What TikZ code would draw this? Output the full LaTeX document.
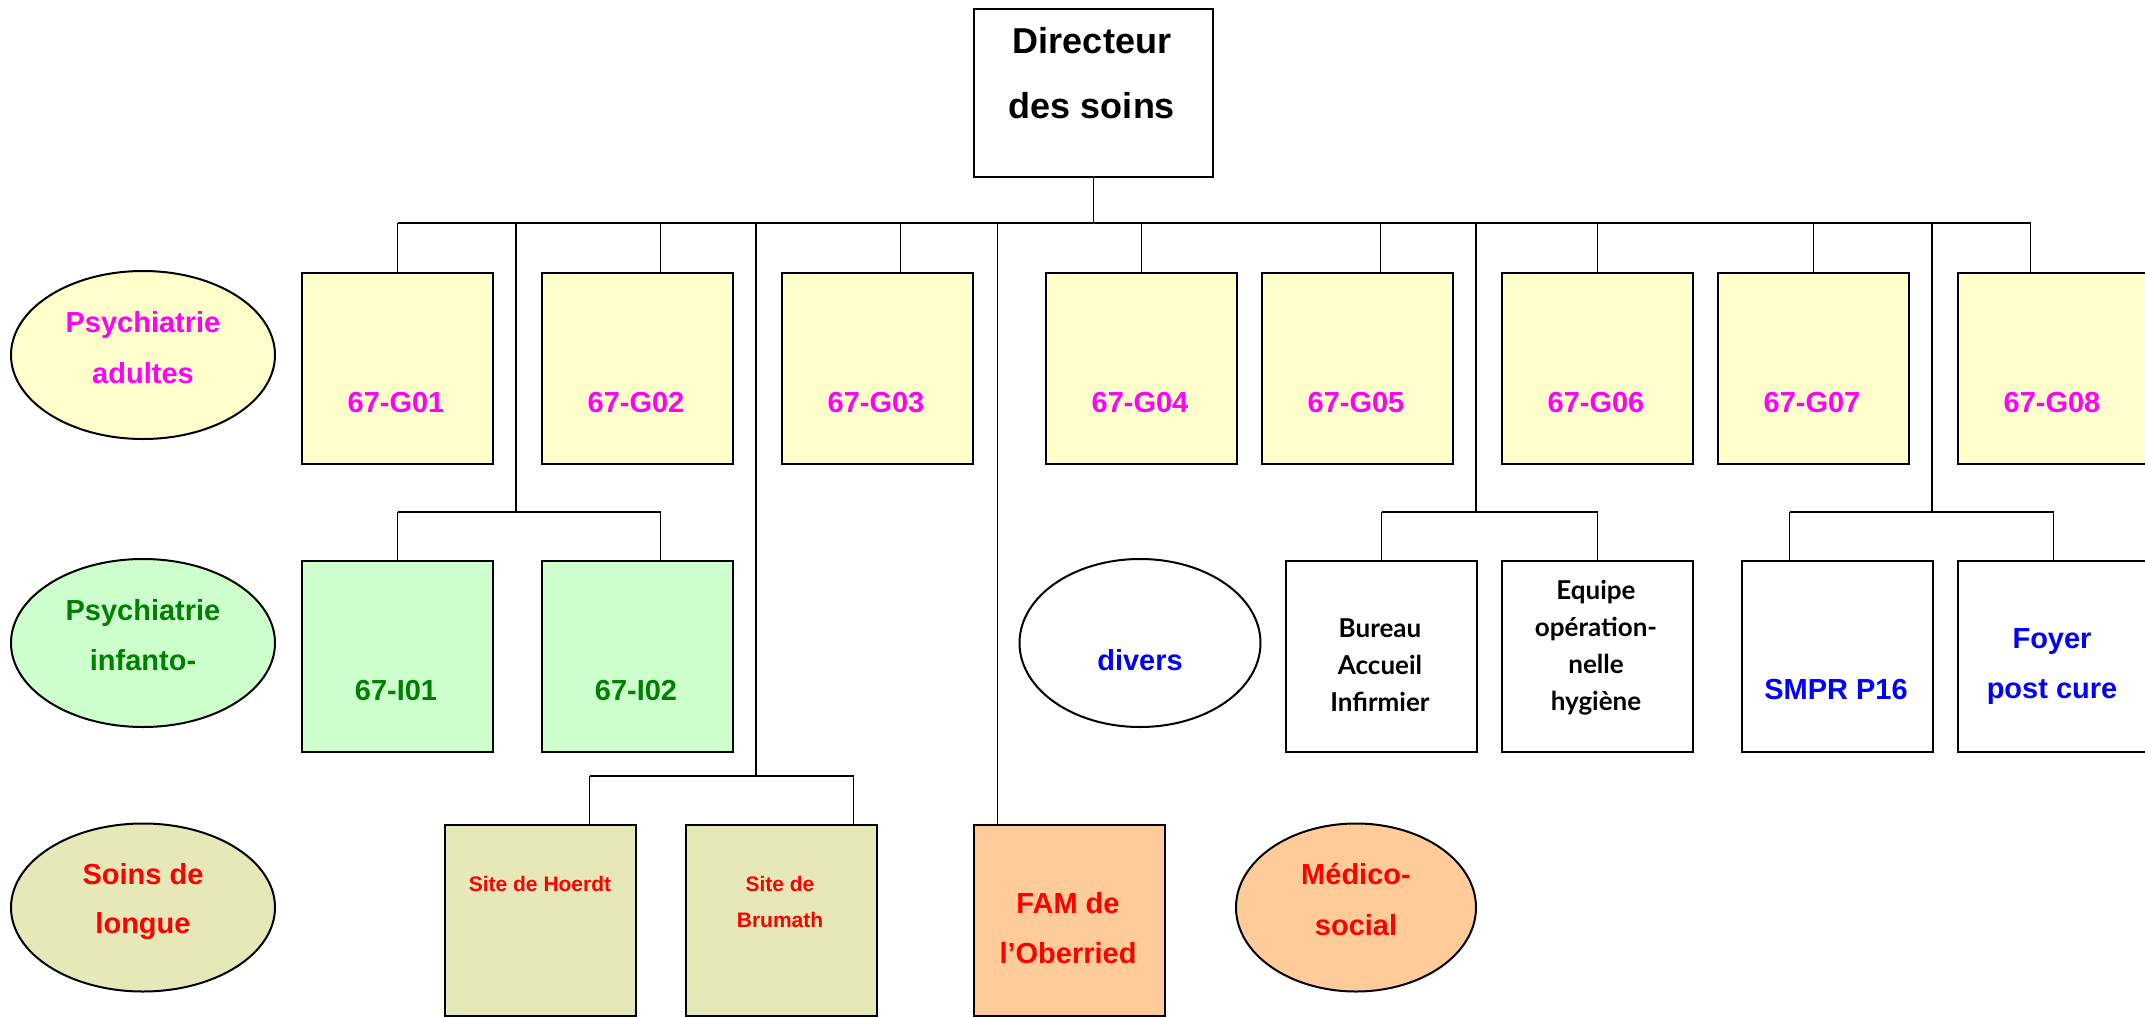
\documentclass[tikz,border=0pt]{standalone}
\usepackage{fontspec}
\setmainfont{Liberation Sans}
\newfontfamily\comicfont{Lato}
\usetikzlibrary{shapes.geometric}
\definecolor{fillyel}{HTML}{FFFFCC}
\definecolor{fillgrn}{HTML}{CCFFCC}
\definecolor{fillolv}{HTML}{E6E8B7}
\definecolor{fillpch}{HTML}{FFCC99}
\definecolor{txmag}{HTML}{FF00FF}
\definecolor{txgrn}{HTML}{008000}
\definecolor{txred}{HTML}{FF0000}
\definecolor{txblu}{HTML}{0000FF}
\begin{document}
\begin{tikzpicture}[x=1pt,y=-1pt,
  box/.style={draw=black, line width=2pt, rectangle, minimum width=191pt, minimum height=191pt, inner sep=0pt, anchor=north west},
  ell/.style={draw=black, line width=2pt, ellipse, inner sep=0pt, minimum width=264pt, minimum height=168pt},
  conn/.style={line width=1.6pt, draw=black},
  txt/.style={inner sep=0pt, align=center},
  fs/.style 2 args={font=\bfseries\fontsize{#1}{#2}\selectfont},
  cfs/.style 2 args={font=\comicfont\bfseries\fontsize{#1}{#2}\selectfont},
]
\useasboundingbox (0,0) rectangle (2145,1017);
\clip (0,0) rectangle (2145,1017);

% bus levels
\coordinate (bus) at (0,223);
\coordinate (bus2) at (0,512);
\coordinate (bus3) at (0,776);
\coordinate (trI) at (516,0);
\coordinate (trS) at (756,0);
\coordinate (trF) at (996,0);
\coordinate (trB) at (1476,0);
\coordinate (trP) at (1932,0);

% director
\node[draw=black, line width=2pt, rectangle, inner sep=0pt, minimum width=239pt, minimum height=168pt, anchor=north west] (dir) at (973,8) {};
\node[txt, fs={36}{65}] (dirT) at (1092,72.5) {\strut Directeur\\\strut des soins};

% ellipses
\node[ell, fill=fillyel] (adu) at (143,355) {};
\node[ell, fill=fillgrn] (inf) at (143,643) {};
\node[ell, fill=fillolv] (soi) at (143,907.5) {};
\node[ell, fill=white, minimum width=241pt] (div) at (1140,643) {};
\node[ell, fill=fillpch, minimum width=240pt] (med) at (1356,907.5) {};
\node[txt, fs={29}{51}, text=txmag] (aduT) at (143,347.3) {\strut Psychiatrie\\\strut adultes};
\node[txt, fs={29}{50}, text=txgrn] (infT) at (143,635) {\strut Psychiatrie\\\strut infanto-};
\node[txt, fs={29}{49}, text=txred] (soiT) at (143,898.7) {\strut Soins de\\\strut longue};
\node[txt, fs={29}{51}, text=txred] (medT) at (1356,899.3) {\strut Médico-\\\strut social};
\node[txt, fs={29}{35}, text=txblu, anchor=base] (divT) at (1140,670) {divers};

% row 1
\node[box, fill=fillyel] (G01) at (301,272) {};
\node[box, fill=fillyel] (G02) at (541,272) {};
\node[box, fill=fillyel] (G03) at (781,272) {};
\node[box, fill=fillyel] (G04) at (1045,272) {};
\node[box, fill=fillyel] (G05) at (1261,272) {};
\node[box, fill=fillyel] (G06) at (1501,272) {};
\node[box, fill=fillyel] (G07) at (1717,272) {};
\node[box, fill=fillyel] (G08) at (1957,272) {};
\foreach \n/\x in {G01/396,G02/636,G03/876,G04/1140,G05/1356,G06/1596,G07/1812,G08/2052}
  \node[txt, fs={29}{35}, text=txmag, anchor=base] (\n T) at (\x,412) {67-\n};

% row 2
\node[box, fill=fillgrn] (I01) at (301,560) {};
\node[box, fill=fillgrn] (I02) at (541,560) {};
\node[box, fill=white] (BAI) at (1285,560) {};
\node[box, fill=white] (EOH) at (1501,560) {};
\node[box, fill=white] (SMPR) at (1741,560) {};
\node[box, fill=white] (FPC) at (1957,560) {};
\node[txt, fs={29}{35}, text=txgrn, anchor=base] (I01T) at (396,700) {67-I01};
\node[txt, fs={29}{35}, text=txgrn, anchor=base] (I02T) at (636,700) {67-I02};
\node[txt, cfs={26}{37}] (BAIT) at (1380,666.6) {\strut Bureau\\Accueil\\\strut Infirmier};
\node[txt, cfs={26}{36.7}] (EOHT) at (1596,647.7) {\strut Equipe\\opération-\\nelle\\\strut hygiène};
\node[txt, fs={29}{35}, text=txblu, anchor=base] (SMPRT) at (1836,699) {SMPR P16};
\node[txt, fs={29}{50}, text=txblu] (FPCT) at (2052,663) {\strut Foyer\\\strut post cure};

% row 3
\node[box, fill=fillolv] (HOE) at (444,824) {};
\node[box, fill=fillolv] (BRU) at (685,824) {};
\node[box, fill=fillpch] (FAM) at (973,824) {};
\node[txt, fs={21}{30}, text=txred, anchor=base] (HOET) at (540,891) {Site de Hoerdt};
\node[txt, fs={21}{36}, text=txred] (BRUT) at (780,901.8) {\strut Site de\\\strut Brumath};
\node[txt, fs={29}{50}, text=txred] (FAMT) at (1068,928) {\strut FAM de\\\strut l’Oberried};

% attachment points
\coordinate (G02a) at ([xshift=23pt]G02.north);
\coordinate (G03a) at ([xshift=23pt]G03.north);
\coordinate (G05a) at ([xshift=23pt]G05.north);
\coordinate (G08a) at ([xshift=-23pt]G08.north);
\coordinate (I02a) at ([xshift=23pt]I02.north);
\coordinate (SMPRa) at ([xshift=-48pt]SMPR.north);
\coordinate (HOEa) at ([xshift=49pt]HOE.north);
\coordinate (BRUa) at ([xshift=72pt]BRU.north);
\coordinate (FAMa) at ([xshift=-72pt]FAM.north);

% main bus
\draw[conn] (dir.south) -- (dir.south |- bus);
\draw[conn] (G01.north |- bus) -- (G08a |- bus);
\foreach \a in {G01.north,G02a,G03a,G04.north,G05a,G06.north,G07.north,G08a}
  \draw[conn] (\a) -- (\a |- bus);

% infanto branch
\draw[conn] (trI |- bus) -- (trI |- bus2);
\draw[conn] (I01.north |- bus2) -- (I02a |- bus2);
\draw[conn] (I01.north) -- (I01.north |- bus2);
\draw[conn] (I02a) -- (I02a |- bus2);

% divers branch 1
\draw[conn] (trB |- bus) -- (trB |- bus2);
\draw[conn] (BAI.north |- bus2) -- (EOH.north |- bus2);
\draw[conn] (BAI.north) -- (BAI.north |- bus2);
\draw[conn] (EOH.north) -- (EOH.north |- bus2);

% divers branch 2
\draw[conn] (trP |- bus) -- (trP |- bus2);
\draw[conn] (SMPRa |- bus2) -- (FPC.north |- bus2);
\draw[conn] (SMPRa) -- (SMPRa |- bus2);
\draw[conn] (FPC.north) -- (FPC.north |- bus2);

% long-term care branch
\draw[conn] (trS |- bus) -- (trS |- bus3);
\draw[conn] (HOEa |- bus3) -- (BRUa |- bus3);
\draw[conn] (HOEa) -- (HOEa |- bus3);
\draw[conn] (BRUa) -- (BRUa |- bus3);

% FAM
\draw[conn] (FAMa |- bus) -- (FAMa);
\end{tikzpicture}
\end{document}
